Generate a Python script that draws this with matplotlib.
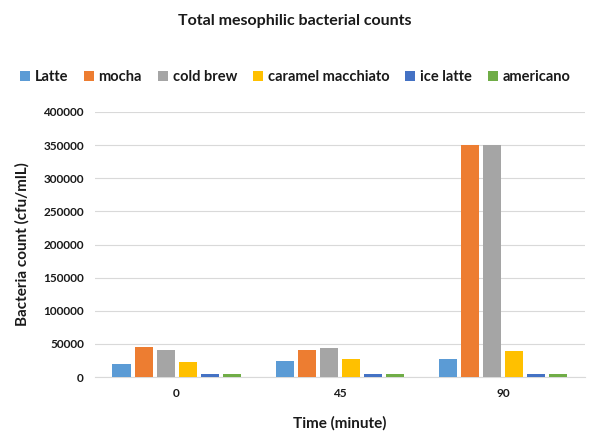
import numpy as np
import matplotlib
matplotlib.use('Agg')
import matplotlib.pyplot as plt

times = ["0", "45", "90"]
series_names = ["Latte", "mocha", "cold brew", "caramel macchiato", "ice latte", "americano"]
latte = [19500, 25000, 27000]
mocha = [45000, 40500, 350000]
cold_brew = [41000, 43500, 350000]
caramel = [23000, 27500, 39000]
ice_latte = [4500, 4500, 4500]
americano = [4500, 4500, 4500]
colors = ["#5B9BD5", "#ED7D31", "#A5A5A5", "#FFC000", "#4472C4", "#70AD47"]

plt.rcParams['font.family'] = ['Lato', 'DejaVu Sans']

fig = plt.figure(figsize=(5.9, 4.32), dpi=100)
ax = fig.add_axes([0.161, 0.127, 0.83, 0.614])

x = np.arange(len(times))
values = [latte, mocha, cold_brew, caramel, ice_latte, americano]
slot = 0.81 / len(values)
for i, (name, vals, c) in enumerate(zip(series_names, values, colors)):
    offs = (i - (len(values) - 1) / 2) * slot
    ax.bar(x + offs, vals, width=slot * 0.82, color=c, label=name, zorder=3)

ax.set_xlim(-0.5, 2.5)
ax.set_ylim(0, 400000)
ax.set_yticks(np.arange(0, 400001, 50000))
ax.set_xticks(x)
ax.set_xticklabels(times)
ax.grid(axis='y', color='#D9D9D9', linewidth=0.8, zorder=0)
for s in ['top', 'right', 'left']:
    ax.spines[s].set_visible(False)
ax.spines['bottom'].set_color('#D9D9D9')
ax.tick_params(length=0, labelsize=8.5, colors='#1a1a1a', pad=8)
for lab in ax.get_xticklabels() + ax.get_yticklabels():
    lab.set_fontweight('bold')

ax.set_xlabel("Time (minute)", fontsize=11, fontweight='bold', color='#1a1a1a', labelpad=12)
ax.set_ylabel("Bacteria count (cfu/mlL)", fontsize=11, fontweight='bold', color='#1a1a1a', labelpad=10)
fig.text(0.5, 0.952, "Total mesophilic bacterial counts", ha='center', va='center',
         fontsize=11.5, fontweight='bold', color='#1a1a1a')

fig.legend(loc='center', bbox_to_anchor=(0.5, 0.822), ncol=6, frameon=False,
           prop={'weight': 'bold', 'size': 10.5}, handlelength=0.7, handleheight=0.7,
           handletextpad=0.3, columnspacing=1.1, labelcolor='#1a1a1a')

fig.savefig("out.png", dpi=100)
